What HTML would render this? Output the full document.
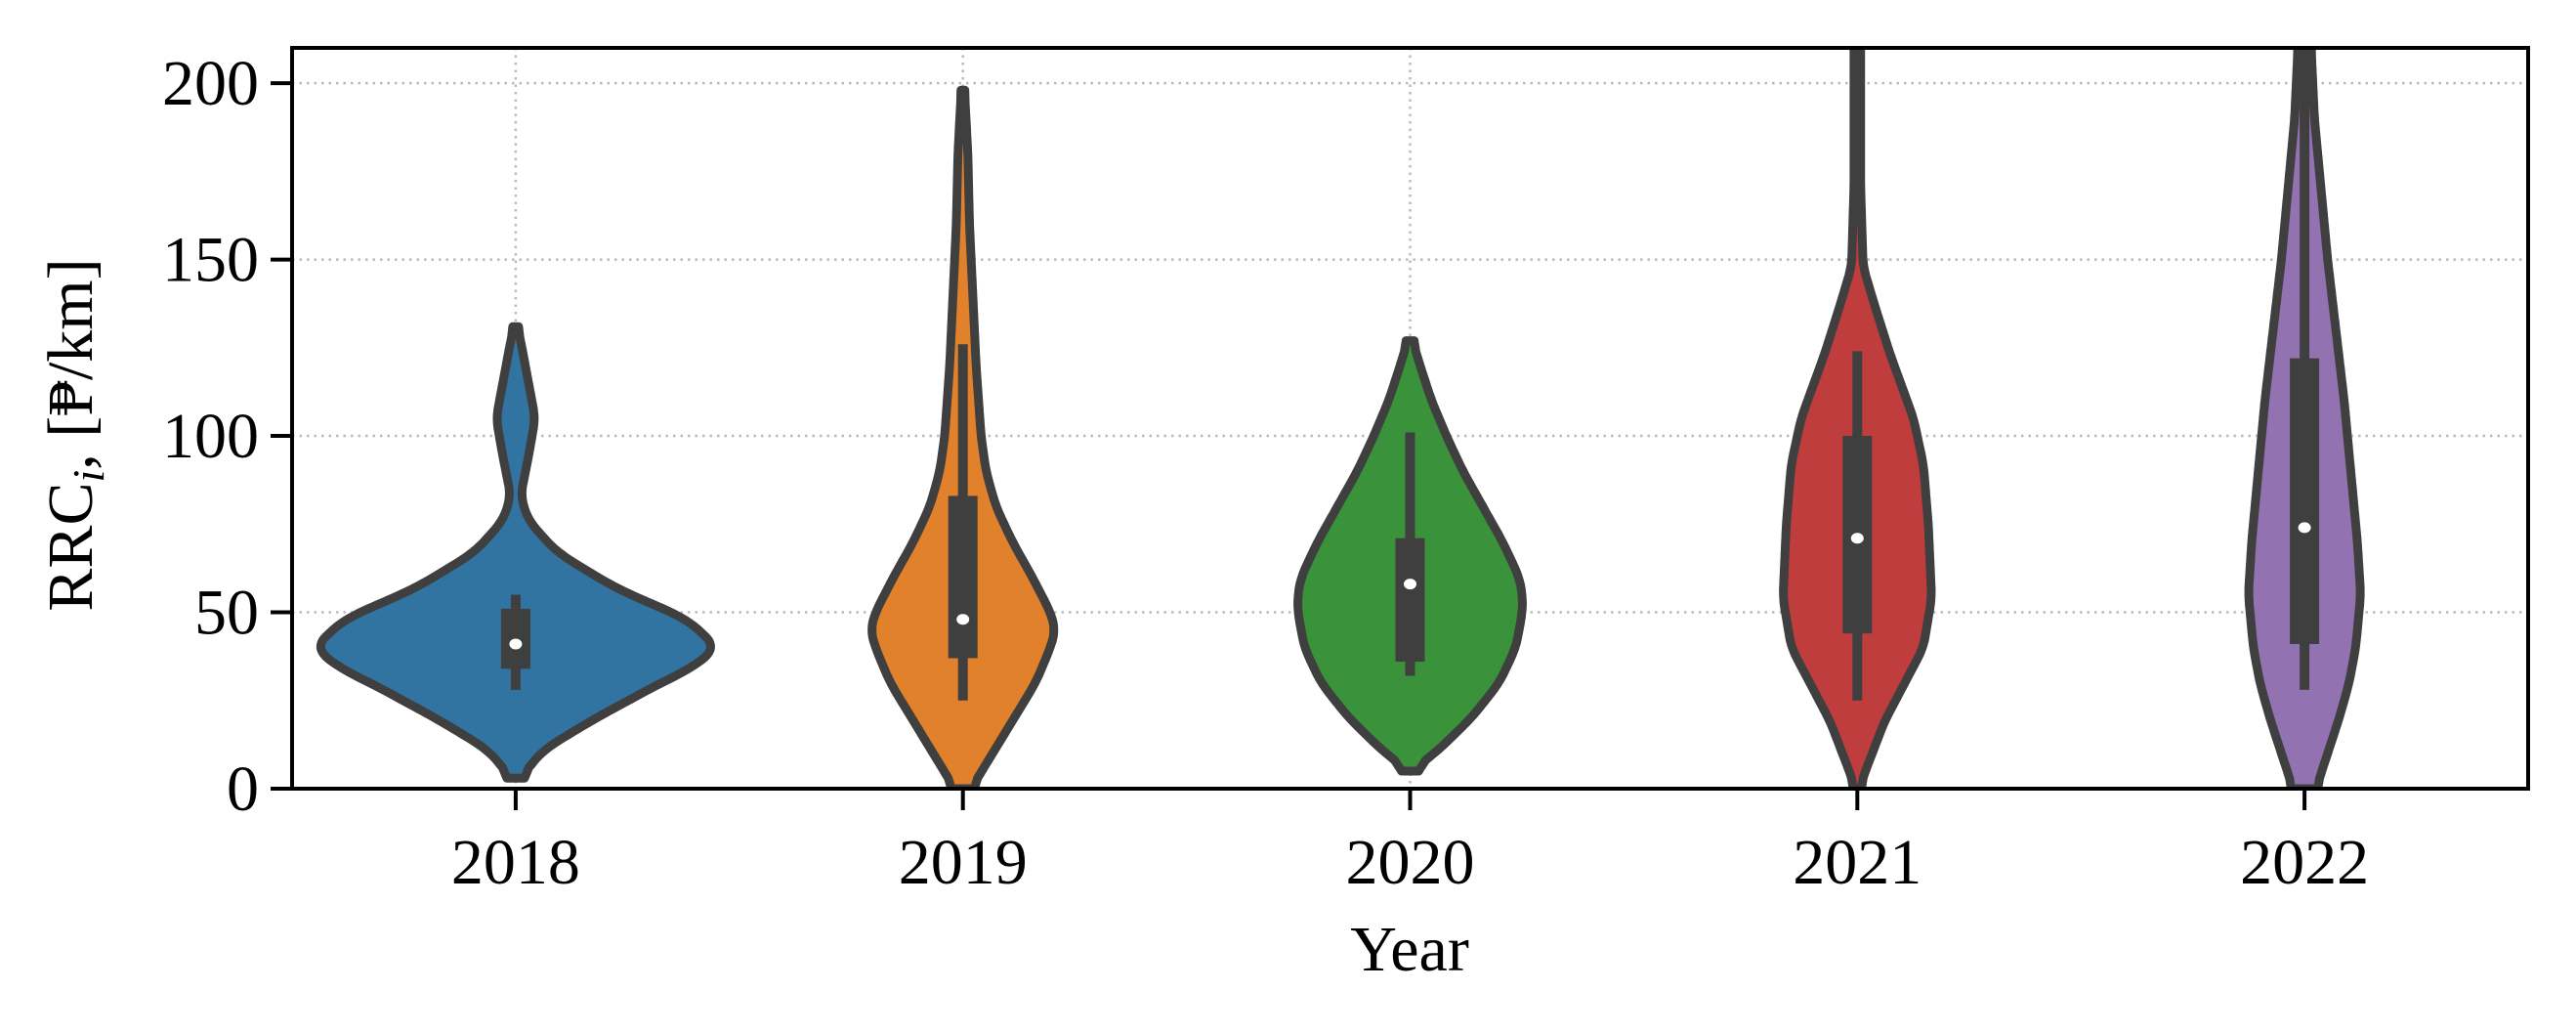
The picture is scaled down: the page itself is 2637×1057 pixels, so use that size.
<!DOCTYPE html>
<html><head><meta charset="utf-8"><style>
html,body{margin:0;padding:0;background:#fff;}
svg{display:block;font-family:"Liberation Serif","DejaVu Serif",serif;}
</style></head><body>
<svg id="chart" width="2637" height="1057" viewBox="0 0 2637 1057" xmlns="http://www.w3.org/2000/svg" style="position:absolute;left:0;top:0">
<rect width="2637" height="1057" fill="#fff"/>
<g id="grid"></g>
<g id="violins"></g>
<g id="axes"></g>
<text x="1443" y="993" text-anchor="middle" font-size="66">Year</text>
<text transform="translate(94,445) rotate(-90)" text-anchor="middle" font-size="66">RRC<tspan font-style="italic" font-size="46" dy="12">i</tspan><tspan dy="-12">, [₱/km]</tspan></text>
</svg>
<script>
const categories = ["2018","2019","2020","2021","2022"];
const colors = ["#3274a1","#e1812c","#3a923a","#c03d3e","#9372b2"];
const yTicks = [0,50,100,150,200];
// density profiles: value levels and relative half-widths
const v2018 = [3,4,11,20,30,34,40,48,57,67,76,83,94,105,117,127,131];
const d2018 = [2,4.7,16.6,48.5,88,106,122,104,60,25,7.7,3,7.7,11.8,7,3,1];
const v2019 = [0,10,20,30,40,45,50,60,70,80,90,100,120,140,160,180,198];
const d2019 = [5,18,31,44,53,56,53,42,30,20,14,11,8,6,4,3,1];
const v2020 = [5,7,10,20,30,40,50,55,60,70,80,90,100,110,120,127];
const d2020 = [2,6,15,37,54,64,68,68,66,56,44,32,22,13,6,1.5];
const v2021 = [0,2,19,40,54,75,92,105,123,137,148,171,210];
const d2021 = [2,2.5,16.4,40,45,43,40,34,20,10.5,3.5,2,2];
const v2022 = [0,10,20,30,40,55,70,90,110,130,150,170,190,210];
const d2022 = [7,14,21,27,31,34,32,28,24,19,14,10,6,4];
const q1 = [34,37,36,44,41];
const q3 = [51,83,71,100,122];
const whiskLo = [28,25,32,25,28];
const whiskHi = [55,126,101,124,215];
const medians = [41,48,58,71,74];

const levels = [v2018,v2019,v2020,v2021,v2022];
const dens = [d2018,d2019,d2020,d2021,d2022];
const NS="http://www.w3.org/2000/svg";
const L=299,R=2588,T=49,B=807,YMAX=210;
const step=(R-L)/categories.length;
const xs=i=>L+step*(i+0.5);
const ys=v=>B-(v/YMAX)*(B-T);
const wk=1/0.5916;
function mk(tag,attrs,parent){const e=document.createElementNS(NS,tag);for(const k in attrs)e.setAttribute(k,attrs[k]);parent.appendChild(e);return e;}
const grid=document.getElementById('grid'),vg=document.getElementById('violins'),ax=document.getElementById('axes');
yTicks.forEach(t=>{const l=mk('line',{x1:L,x2:R,y1:ys(t),y2:ys(t),stroke:'#bbb','stroke-width':2.5,'stroke-dasharray':'2.5 5'},grid);

});
categories.forEach((c,i)=>{const l=mk('line',{x1:xs(i),x2:xs(i),y1:T,y2:B,stroke:'#bbb','stroke-width':2.5,'stroke-dasharray':'2.5 5'},grid);

});
function profile(lv,dd){
  const samp=[];const h=0.5;
  for(let v=lv[0];v<=lv[lv.length-1]+1e-9;v+=h){
    let j=0;while(j<lv.length-2&&v>lv[j+1])j++;
    const t=Math.min(1,Math.max(0,(v-lv[j])/(lv[j+1]-lv[j])));
    samp.push([v,dd[j]+(dd[j+1]-dd[j])*t]);
  }
  const r=6,out=[];
  for(let k=0;k<samp.length;k++){let s=0,n=0;for(let m=-r;m<=r;m++){const q=k+m;if(q>=0&&q<samp.length){s+=samp[q][1];n++;}}out.push([samp[k][0],s/n]);}
  return out;
}
const clip=mk('clipPath',{id:'axclip'},mk('defs',{},vg));mk('rect',{x:L,y:T,width:R-L,height:B-T},clip);
const cg=mk('g',{'clip-path':'url(#axclip)'},vg);
categories.forEach((c,i)=>{
  const cx=xs(i),pr=profile(levels[i],dens[i]);
  const right=pr.map(p=>(cx+p[1]*wk).toFixed(1)+','+ys(p[0]).toFixed(1));
  const left=pr.slice().reverse().map(p=>(cx-p[1]*wk).toFixed(1)+','+ys(p[0]).toFixed(1));
  const d='M'+right.join(' L')+' L'+left.join(' L')+' Z';
  const g=mk('g',{},cg);
  
  
  const p=mk('path',{d:d,fill:colors[i],stroke:'#3f3f3f','stroke-width':9,'stroke-linejoin':'round'},g);
  
  
  const w=mk('line',{x1:cx,x2:cx,y1:ys(whiskLo[i]),y2:ys(whiskHi[i]),stroke:'#3f3f3f','stroke-width':10},g);
  
  
  const b=mk('rect',{x:cx-15,width:30,y:ys(q3[i]),height:ys(q1[i])-ys(q3[i]),fill:'#3f3f3f'},g);
  
  
  const m=mk('ellipse',{cx:cx,cy:ys(medians[i]),rx:6.5,ry:5.5,fill:'#fff'},g);
  
  
});
const fr=mk('rect',{x:L,y:T,width:R-L,height:B-T,fill:'none',stroke:'#000','stroke-width':4},ax);


yTicks.forEach(t=>{mk('line',{x1:L-22,x2:L,y1:ys(t),y2:ys(t),stroke:'#000','stroke-width':4},ax);
const tx=mk('text',{x:L-34,y:ys(t)+22,'text-anchor':'end','font-size':66,fill:'#000'},ax);tx.textContent=t;

});
categories.forEach((c,i)=>{mk('line',{x1:xs(i),x2:xs(i),y1:B,y2:B+22,stroke:'#000','stroke-width':4},ax);
const tx=mk('text',{x:xs(i),y:904,'text-anchor':'middle','font-size':66,fill:'#000'},ax);tx.textContent=c;

});
</script>
</body></html>
